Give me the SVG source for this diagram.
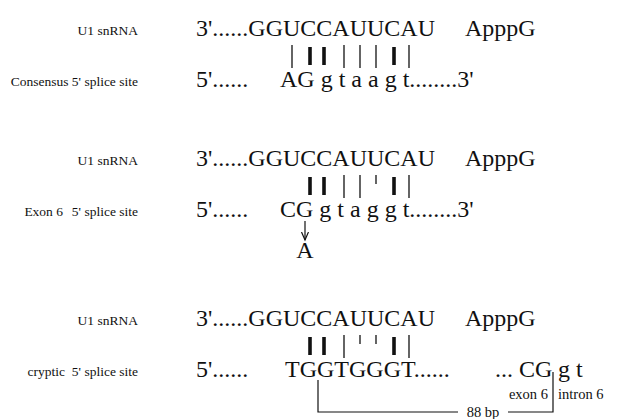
<svg xmlns="http://www.w3.org/2000/svg" width="623" height="419" viewBox="0 0 623 419">
<style>
.seq{font-family:"Liberation Serif","Times New Roman",serif;font-size:24px;fill:#111}
.lbl{font-family:"Liberation Serif","Times New Roman",serif;font-size:13.5px;fill:#111;text-anchor:end}
.sm{font-family:"Liberation Serif","Times New Roman",serif;font-size:14.5px;fill:#111}
.m{text-anchor:middle}
.thin{stroke:#111;stroke-width:1.3}
.thick{stroke:#111;stroke-width:3.6}
.con{stroke:#111;stroke-width:1.2;fill:none}
</style>
<defs>
<marker id="ah" markerWidth="10" markerHeight="10" refX="8" refY="4" orient="auto" markerUnits="userSpaceOnUse">
<path d="M0,0.5 L8,4 L0,7.5" fill="none" stroke="#111" stroke-width="1.2"/>
</marker>
</defs>
<rect width="623" height="419" fill="#fff"/>

<g id="block1">
<text class="lbl" x="138" y="35">U1 snRNA</text>
<text class="seq" x="196" y="36">3'......GGUCCAUUCAU</text>
<text class="seq" x="465" y="36">ApppG</text>
<g id="pairs1">
<line class="thin" x1="292" y1="45" x2="292" y2="68"/>
<line class="thick" x1="310" y1="47" x2="310" y2="65"/>
<line class="thick" x1="324" y1="47" x2="324" y2="65"/>
<line class="thin" x1="344" y1="45" x2="344" y2="68"/>
<line class="thin" x1="360" y1="45" x2="360" y2="68"/>
<line class="thin" x1="376" y1="45" x2="376" y2="68"/>
<line class="thick" x1="394" y1="47" x2="394" y2="65"/>
<line class="thin" x1="409" y1="45" x2="409" y2="68"/>
</g>
<text class="lbl" x="138" y="86">Consensus 5' splice site</text>
<text class="seq" x="196" y="87">5'......</text>
<text class="seq" y="87"><tspan x="280">AG</tspan><tspan x="320.7">g</tspan><tspan x="338.7">t</tspan><tspan x="351.3">a</tspan><tspan x="368">a</tspan><tspan x="384.7">g</tspan><tspan x="402.7">t........3'</tspan></text>
</g>

<g id="block2">
<text class="lbl" x="138" y="165">U1 snRNA</text>
<text class="seq" x="196" y="166">3'......GGUCCAUUCAU</text>
<text class="seq" x="465" y="166">ApppG</text>
<g id="pairs2">
<line class="thick" x1="310" y1="177" x2="310" y2="195"/>
<line class="thick" x1="324" y1="177" x2="324" y2="195"/>
<line class="thin" x1="344" y1="175" x2="344" y2="198"/>
<line class="thin" x1="360" y1="175" x2="360" y2="198"/>
<line class="thin" x1="376" y1="175" x2="376" y2="184"/>
<line class="thick" x1="394" y1="177" x2="394" y2="195"/>
<line class="thin" x1="409" y1="175" x2="409" y2="198"/>
</g>
<text class="lbl" y="216"><tspan x="63">Exon 6</tspan><tspan x="138">5' splice site</tspan></text>
<text class="seq" x="196" y="217">5'......</text>
<text class="seq" y="217"><tspan x="280">CG</tspan><tspan x="319.3">g</tspan><tspan x="337.3">t</tspan><tspan x="350">a</tspan><tspan x="366.7">g</tspan><tspan x="384.7">g</tspan><tspan x="402.7">t........3'</tspan></text>
<text class="seq m" x="305" y="258">A</text>
</g>

<g id="block3">
<text class="lbl" x="138" y="325">U1 snRNA</text>
<text class="seq" x="196" y="326">3'......GGUCCAUUCAU</text>
<text class="seq" x="465" y="326">ApppG</text>
<g id="pairs3">
<line class="thick" x1="310" y1="337" x2="310" y2="355"/>
<line class="thick" x1="324" y1="337" x2="324" y2="355"/>
<line class="thin" x1="344" y1="335" x2="344" y2="358"/>
<line class="thin" x1="360" y1="335" x2="360" y2="344"/>
<line class="thin" x1="376" y1="335" x2="376" y2="344"/>
<line class="thick" x1="394" y1="337" x2="394" y2="355"/>
<line class="thin" x1="409" y1="335" x2="409" y2="358"/>
</g>
<text class="lbl" y="376"><tspan x="65">cryptic</tspan><tspan x="138">5' splice site</tspan></text>
<text class="seq" x="196" y="377">5'......</text>
<text class="seq" x="285" y="377">TGGTGGGT......</text>
<text class="seq" y="377"><tspan x="495">...</tspan><tspan x="519">CG</tspan><tspan x="558">g</tspan><tspan x="576">t</tspan></text>
<text class="sm" x="548" y="399" text-anchor="end">exon 6</text>
<text class="sm" x="558" y="399">intron 6</text>
<text class="sm m" x="483" y="417">88 bp</text>
</g>

<g id="connectors">
<line class="con" x1="305" y1="221" x2="305" y2="240" marker-end="url(#ah)"/>
<path class="con" d="M318,380 V412 H458"/>
<path class="con" d="M508,412 H553 V372"/>
</g>
</svg>
